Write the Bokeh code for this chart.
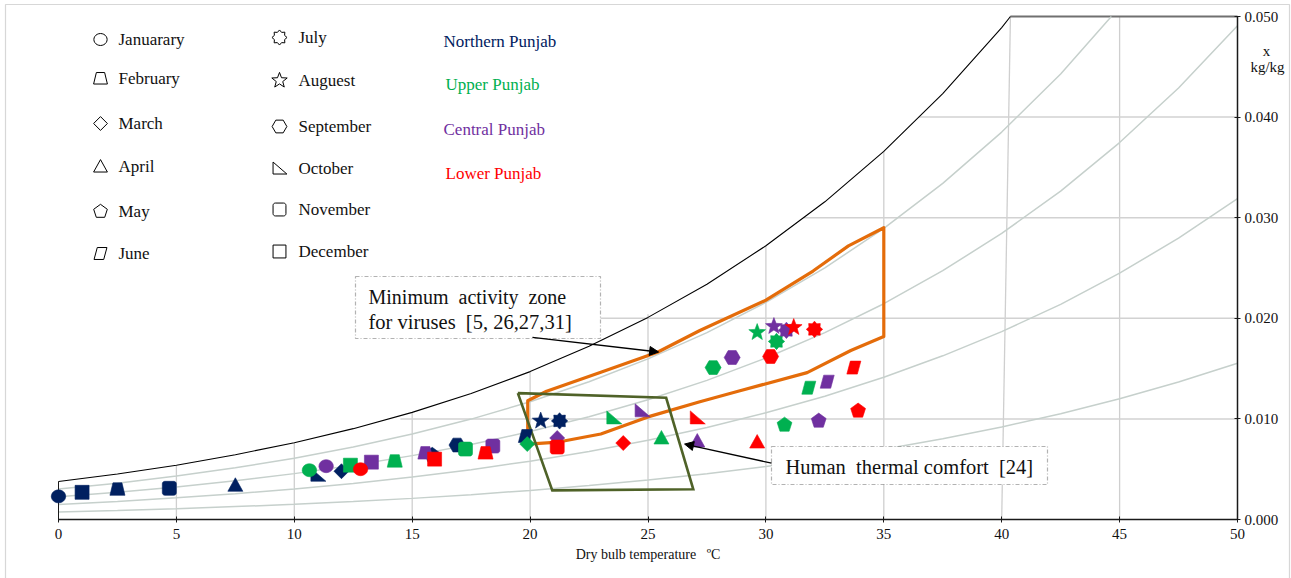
import math
from bokeh.plotting import figure
from bokeh.models import (Range1d, LinearAxis, FixedTicker, NumeralTickFormatter,
                          Label, BoxAnnotation, Arrow, NormalHead)
from bokeh.embed import file_html
from bokeh.resources import INLINE

FONT = "Liberation Serif"

# ---------------- data ----------------
months = ["Januarary", "February", "March", "April", "May", "June",
          "July", "Auguest", "September", "October", "November", "December"]
month_shapes = ["circle", "trapezoid", "diamond", "triangle", "pentagon", "parallelogram",
                "burst", "star", "hexagon", "rtriangle", "rsquare", "square"]
regions = ["Northern Punjab", "Upper Punjab", "Central Punjab", "Lower Punjab"]
region_colors = ["#002060", "#00B050", "#7030A0", "#FF0000"]

# dry bulb temperature (degC) and humidity ratio (kg/kg), Jan..Dec
northern_t = [0.0, 2.5, 12.0, 7.5, 15.85, 19.8, 21.25, 20.45, 16.9, 11.0, 4.7, 1.0]
northern_x = [0.0023, 0.0030, 0.0048, 0.0034, 0.0064, 0.0083, 0.0098, 0.0098, 0.0074, 0.0044, 0.0031, 0.0027]
upper_t = [10.64, 14.26, 19.88, 25.57, 30.79, 31.82, 30.45, 29.63, 27.76, 23.55, 17.26, 12.38]
upper_x = [0.0049, 0.0058, 0.0075, 0.0081, 0.0094, 0.0131, 0.0177, 0.0186, 0.0151, 0.0101, 0.0070, 0.0054]
central_t = [11.35, 15.56, 21.15, 27.09, 32.24, 32.6, 30.87, 30.34, 28.57, 24.75, 18.42, 13.27]
central_x = [0.0053, 0.0066, 0.0081, 0.0078, 0.0098, 0.0137, 0.0188, 0.0192, 0.0161, 0.0108, 0.0073, 0.0057]
lower_t = [12.81, 18.11, 23.95, 29.63, 33.91, 33.73, 32.06, 31.18, 30.2, 27.09, 21.15, 15.95]
lower_x = [0.0050, 0.0066, 0.0076, 0.0077, 0.0108, 0.0151, 0.0189, 0.0191, 0.0162, 0.0101, 0.0072, 0.0060]

# psychrometric curves
curve_t = [0, 2.5, 5, 7.5, 10, 12.5, 15, 17.5, 20, 22.5, 25, 27.5, 30, 32.5, 35, 37.5, 40, 42.5, 45, 47.5, 50]
sat_t = [0, 2.5, 5, 7.5, 10, 12.5, 15, 17.5, 20, 22.5, 25, 27.5, 30, 32.5, 35, 37.5, 40, 40.37]
sat_x = [0.00378, 0.00452, 0.00540, 0.00644, 0.00763, 0.00903, 0.01065, 0.01253, 0.01470, 0.01721,
         0.02009, 0.02339, 0.02721, 0.03158, 0.03659, 0.04234, 0.04890, 0.0500]
rh80_t = [0, 2.5, 5, 7.5, 10, 12.5, 15, 17.5, 20, 22.5, 25, 27.5, 30, 32.5, 35, 37.5, 40, 42.5, 44.65]
rh80_x = [0.00302, 0.00361, 0.00432, 0.00514, 0.00609, 0.00720, 0.00849, 0.00998, 0.01170, 0.01369,
          0.01597, 0.01857, 0.02158, 0.02501, 0.02893, 0.03341, 0.03851, 0.04429, 0.0500]
rh60_x = [0.00226, 0.00271, 0.00323, 0.00385, 0.00456, 0.00539, 0.00635, 0.00746, 0.00874, 0.01021,
          0.01190, 0.01383, 0.01605, 0.01857, 0.02145, 0.02473, 0.02844, 0.03264, 0.03747, 0.04290, 0.04909]
rh40_x = [0.00150, 0.00180, 0.00215, 0.00256, 0.00303, 0.00358, 0.00422, 0.00495, 0.00580, 0.00677,
          0.00788, 0.00915, 0.01061, 0.01226, 0.01414, 0.01627, 0.01868, 0.02138, 0.02449, 0.02796, 0.03189]
rh20_x = [0.00075, 0.00090, 0.00107, 0.00128, 0.00151, 0.00179, 0.00210, 0.00247, 0.00289, 0.00337,
          0.00392, 0.00454, 0.00526, 0.00607, 0.00699, 0.00803, 0.00920, 0.01051, 0.01201, 0.01367, 0.01554]

# grid
vgrid_t = [5, 10, 15, 20, 25, 30, 35, 40, 45]
vgrid_top_t = [5, 10, 15, 20, 25, 30, 35, 40.37, 45]
vgrid_top_x = [0.0054, 0.0076, 0.01065, 0.0147, 0.0204, 0.0272, 0.0366, 0.0500, 0.0500]
hgrid_x = [0.010, 0.020, 0.030, 0.040]
hgrid_start_t = [14.5, 22.9, 31.6, 36.5]

# zones
virus_upper_t = [19.9, 20.7, 23.0, 25.4, 27.2, 30.0, 32.0, 33.5, 35.0]
virus_upper_x = [0.0118, 0.01275, 0.01464, 0.01663, 0.01879, 0.0218, 0.0247, 0.0272, 0.0290]
virus_lower_t = [19.9, 21.2, 23.0, 25.0, 27.2, 28.9, 31.75, 33.6, 35.0]
virus_lower_x = [0.0075, 0.0077, 0.0085, 0.0102, 0.0117, 0.0128, 0.0146, 0.0168, 0.0182]
comfort_t = [19.48, 25.77, 26.92, 20.94]
comfort_x = [0.01256, 0.0121, 0.0030, 0.0029]

x_ticks = [0, 5, 10, 15, 20, 25, 30, 35, 40, 45, 50]
y_ticks = [0.0, 0.01, 0.02, 0.03, 0.04, 0.05]

# ---------------- layout ----------------
W, H = 1291, 578
ORIGIN_PX = (58, 519)      # canvas pixel of (0 degC, 0 kg/kg)
PX_PER_T = 23.58
PX_PER_X = 10060.0
X_START = -ORIGIN_PX[0] / PX_PER_T
X_END = X_START + W / PX_PER_T
Y_START = -(H - ORIGIN_PX[1]) / PX_PER_X
Y_END = Y_START + H / PX_PER_X
SX = (X_END - X_START) / W
SY = (Y_END - Y_START) / H


def dx(px):  # canvas px -> data x
    return X_START + px * SX


def dy(py):  # canvas px -> data y
    return Y_END - py * SY


p = figure(width=W, height=H, x_range=Range1d(X_START, X_END), y_range=Range1d(Y_START, Y_END),
           x_axis_type=None, y_axis_type=None, toolbar_location=None, output_backend="svg",
           min_border_left=0, min_border_right=0, min_border_top=0, min_border_bottom=0)
p.outline_line_color = None

# outer frame of the figure panel
p.add_layout(BoxAnnotation(left=dx(5), right=dx(1289), top=dy(4), bottom=dy(640),
                           fill_alpha=0, line_color="#7a7a7a", line_width=1.2))

# axes (fixed at T=50 and x=0)
xaxis = LinearAxis(ticker=FixedTicker(ticks=x_ticks), bounds=(0, 50), fixed_location=0)
yaxis = LinearAxis(ticker=FixedTicker(ticks=y_ticks), bounds=(0, 0.05), fixed_location=50,
                   formatter=NumeralTickFormatter(format="0.000"))
for ax in (xaxis, yaxis):
    ax.axis_line_color = "#1a1a1a"
    ax.axis_line_width = 1.5
    ax.major_tick_line_color = "#1a1a1a"
    ax.major_tick_in = 3
    ax.major_tick_out = 3
    ax.minor_tick_line_color = None
    ax.major_label_text_font = FONT
    ax.major_label_text_color = "#111111"
xaxis.major_label_text_font_size = "15px"
xaxis.major_label_standoff = 6
xaxis.axis_label = "Dry bulb temperature\u00a0\u00a0\u00a0\u00baC"
xaxis.axis_label_text_font = FONT
xaxis.axis_label_text_font_size = "14px"
xaxis.axis_label_text_font_style = "normal"
xaxis.axis_label_text_color = "#111111"
xaxis.axis_label_standoff = 5
yaxis.major_label_text_font_size = "15px"
yaxis.major_label_standoff = 4
p.add_layout(xaxis, "below")
p.add_layout(yaxis, "right")

# grid lines
vx = [[t0, t1] for t0, t1 in zip(vgrid_t, vgrid_top_t)]
vy = [[0, top] for top in vgrid_top_x]
p.multi_line(vx, vy, line_color="#cfcfcf", line_width=1.3)
hx = [[t0, 50] for t0 in hgrid_start_t]
hy = [[v, v] for v in hgrid_x]
p.multi_line(hx, hy, line_color="#d2d2d2", line_width=1.5)
p.line([sat_t[-1], 50], [y_ticks[-1], y_ticks[-1]], line_color="#707070", line_width=2)

# relative humidity curves
rh_col = "#c6d0cc"
p.line(rh80_t, rh80_x, line_color=rh_col, line_width=1.5)
p.line(curve_t, rh60_x, line_color=rh_col, line_width=1.5)
p.line(curve_t, rh40_x, line_color=rh_col, line_width=1.5)
p.line(curve_t, rh20_x, line_color=rh_col, line_width=1.5)
p.line([0, 0], [0, sat_x[0]], line_color="#1a1a1a", line_width=1)
p.line(sat_t, sat_x, line_color="#000000", line_width=1.1)

# zones
vz_t = virus_lower_t[:1] + virus_upper_t + virus_lower_t[::-1]
vz_x = virus_lower_x[:1] + virus_upper_x + virus_lower_x[::-1]
p.line(vz_t, vz_x, line_color="#E46C0A", line_width=3.2, line_join="round")
p.line(comfort_t + comfort_t[:1], comfort_x + comfort_x[:1], line_color="#4F6228",
       line_width=2.6, line_join="miter")


# marker shapes (pixel offsets, y up)
def regular(n, r, start_deg):
    return [(r * math.cos(math.radians(start_deg + 360.0 * k / n)),
             r * math.sin(math.radians(start_deg + 360.0 * k / n))) for k in range(n)]


def starpts(n, ro, ri):
    pts = []
    for k in range(2 * n):
        r = ro if k % 2 == 0 else ri
        a = math.radians(90 + 180.0 * k / n)
        pts.append((r * math.cos(a), r * math.sin(a)))
    return pts


def rrect(h, rc):
    pts = []
    for cx, cy, a0 in [(h - rc, h - rc, 0), (-h + rc, h - rc, 90), (-h + rc, -h + rc, 180), (h - rc, -h + rc, 270)]:
        for k in range(5):
            a = math.radians(a0 + 22.5 * k)
            pts.append((cx + rc * math.cos(a), cy + rc * math.sin(a)))
    return pts


SHAPES = {
    "circle": [(7.2 * math.cos(2 * math.pi * k / 24), 6.5 * math.sin(2 * math.pi * k / 24)) for k in range(24)],
    "trapezoid": [(-7.5, -6), (7.5, -6), (4.5, 6.5), (-4.5, 6.5)],
    "diamond": [(0, 7.5), (7.5, 0), (0, -7.5), (-7.5, 0)],
    "triangle": [(-7.5, -6), (7.5, -6), (0, 7.5)],
    "pentagon": regular(5, 7.8, 90),
    "parallelogram": [(-7, -6.5), (3.5, -6.5), (7, 6.5), (-3.5, 6.5)],
    "burst": starpts(8, 8.2, 6.0),
    "star": starpts(5, 8.8, 3.7),
    "hexagon": regular(6, 8, 0),
    "rtriangle": [(-7, 7), (-7, -6), (8, -6)],
    "rsquare": rrect(7, 2.5),
    "square": [(-7, -7), (7, -7), (7, 7), (-7, 7)],
}


def shape_xy(kind, cx, cy, scale=1.0):
    pts = SHAPES[kind]
    return ([cx + px * scale * SX for px, py in pts], [cy + py * scale * SY for px, py in pts])


# data points
for tt, xx, col in [(northern_t, northern_x, region_colors[0]), (upper_t, upper_x, region_colors[1]),
                    (central_t, central_x, region_colors[2]), (lower_t, lower_x, region_colors[3])]:
    xs, ys = [], []
    for m in range(12):
        a, b = shape_xy(month_shapes[m], tt[m], xx[m])
        xs.append(a)
        ys.append(b)
    p.patches(xs, ys, fill_color=col, line_color=col, line_width=0.6)

# legend: months
leg_mark_px = [100, 279]
leg_text_px = [118, 298]
leg_rows_px = [[39, 78, 123, 166, 211, 253], [37, 80, 126, 168, 209, 251]]
lxs, lys = [], []
for m in range(12):
    c, r = divmod(m, 6)
    a, b = shape_xy(month_shapes[m], dx(leg_mark_px[c]), dy(leg_rows_px[c][r]), 0.92)
    lxs.append(a)
    lys.append(b)
    p.add_layout(Label(x=dx(leg_text_px[c]), y=dy(leg_rows_px[c][r]), text=months[m],
                       text_font=FONT, text_font_size="17px", text_color="#111111",
                       text_baseline="middle", text_align="left"))
p.patches(lxs, lys, fill_alpha=0, line_color="#000000", line_width=1)

# legend: regions
reg_px = [(443, 41), (445, 84), (443, 129), (445, 173)]
for (px, py), name, col in zip(reg_px, regions, region_colors):
    p.add_layout(Label(x=dx(px), y=dy(py), text=name, text_font=FONT, text_font_size="17px",
                       text_color=col, text_baseline="middle", text_align="left"))

# right axis unit label
p.add_layout(Label(x=dx(1266), y=dy(50), text="x", text_font=FONT, text_font_size="15px",
                   text_align="center", text_baseline="middle", text_color="#111111"))
p.add_layout(Label(x=dx(1267), y=dy(66), text="kg/kg", text_font=FONT, text_font_size="15px",
                   text_align="center", text_baseline="middle", text_color="#111111"))

# annotation boxes
for (l, r, t, b) in [(355, 600, 276, 338), (771, 1047, 446, 484)]:
    p.add_layout(BoxAnnotation(left=dx(l), right=dx(r), top=dy(t), bottom=dy(b),
                               fill_color="white", fill_alpha=1.0, line_color="#000000",
                               line_width=1.2, line_dash="4 2 1 2"))
p.add_layout(Label(x=dx(368), y=dy(296), text="Minimum\u00a0 activity\u00a0 zone", text_font=FONT,
                   text_font_size="20px", text_baseline="middle", text_color="#111111"))
p.add_layout(Label(x=dx(368), y=dy(321), text="for viruses\u00a0 [5, 26,27,31]", text_font=FONT,
                   text_font_size="20.5px", text_baseline="middle", text_color="#111111"))
p.add_layout(Label(x=dx(785), y=dy(466), text="Human\u00a0 thermal comfort\u00a0 [24]", text_font=FONT,
                   text_font_size="20.5px", text_baseline="middle", text_color="#111111"))

# arrows
p.add_layout(Arrow(end=NormalHead(size=9, fill_color="black", line_color="black"),
                   x_start=20.1, y_start=0.0181, x_end=25.45, y_end=0.01665,
                   line_color="black", line_width=1.3))
p.add_layout(Arrow(end=NormalHead(size=9, fill_color="black", line_color="black"),
                   x_start=30.24, y_start=0.0056, x_end=26.55, y_end=0.0075,
                   line_color="black", line_width=1.3))

open("out.html", "w").write(file_html(p, INLINE))
